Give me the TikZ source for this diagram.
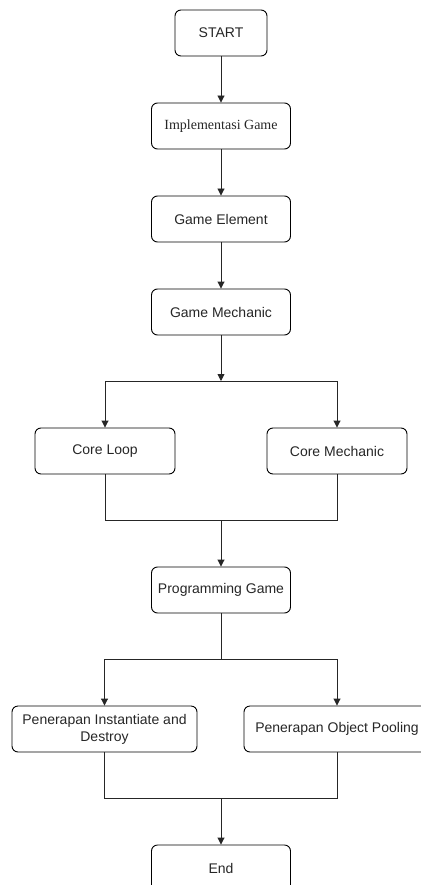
\documentclass[tikz,border=0pt]{standalone}
\usepackage{fontspec}
\usetikzlibrary{arrows.meta}
\setmainfont{Liberation Sans}
\newfontfamily\timesfont{Liberation Serif}
\tikzset{
    stepbox/.style={draw, rounded corners=6pt, minimum width=139pt, minimum height=46pt,
        align=center, font=\fontsize{14}{17}\selectfont, text=black!85, line width=.9pt},
    wirestyle/.style={line width=.9pt, draw=black!85},
    tip/.style={-{Triangle[length=7pt,width=7pt]}}
}
\begin{document}
\begin{tikzpicture}[x=1pt,y=-1pt]
            \useasboundingbox (0,0) rectangle (420,885);
            \node[stepbox, minimum width=92pt] (start) at (221,33) {START};
            \node[stepbox, font=\timesfont\fontsize{14}{17}\selectfont] (impl) at (221,126) {Implementasi Game};
            \node[stepbox] (elem) at (221,219) {Game Element};
            \node[stepbox] (mech) at (221,312) {Game Mechanic};
            \node[stepbox, minimum width=140pt] (loop) at (105,451) {Core Loop};
            \node[stepbox, minimum width=140pt] (coremech) at (337,451) {Core Mechanic};
            \node[stepbox] (prog) at (221,590) {Programming Game};
            \node[stepbox, minimum width=185pt] (inst) at (104.5,729) {Penerapan Instantiate and\\Destroy};
            \node[stepbox, minimum width=186pt] (pool) at (337,729) {Penerapan Object Pooling};
            \node[stepbox] (finish) at (221,868) {End};
            
            \coordinate (split1) at (221,381);
            \coordinate (join1) at (221,520);
            \coordinate (split2) at (221,659);
            \coordinate (join2) at (221,798);
            
            \draw[wirestyle,tip] (start) -- (impl);
            \draw[wirestyle,tip] (impl) -- (elem);
            \draw[wirestyle,tip] (elem) -- (mech);
            \draw[wirestyle,tip] (mech) -- (split1);
            \draw[wirestyle,tip] (split1) -| (loop);
            \draw[wirestyle,tip] (split1) -| (coremech);
            \draw[wirestyle] (loop) |- (join1);
            \draw[wirestyle] (coremech) |- (join1);
            \draw[wirestyle,tip] (join1) -- (prog);
            \draw[wirestyle] (prog) -- (split2);
            \draw[wirestyle,tip] (split2) -| (inst);
            \draw[wirestyle,tip] (split2) -| (pool);
            \draw[wirestyle] (inst) |- (join2);
            \draw[wirestyle] (pool) |- (join2);
            \draw[wirestyle,tip] (join2) -- (finish);
            
        \end{tikzpicture}
\end{document}
